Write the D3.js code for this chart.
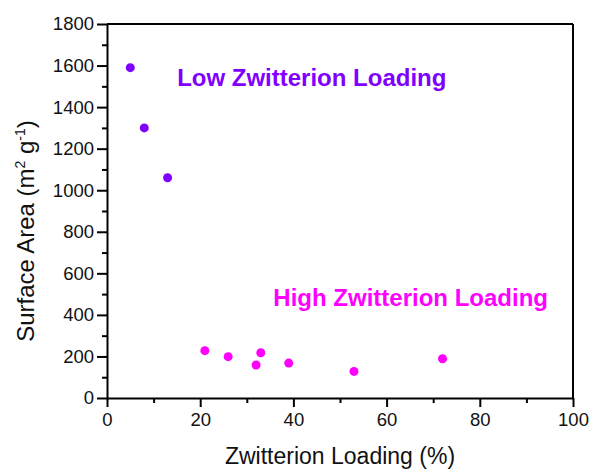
<!DOCTYPE html>
<html>
<head>
<meta charset="utf-8">
<script src="https://cdn.jsdelivr.net/npm/d3@7"></script>
<style>
  body { margin: 0; background: #fff; }
  text { font-family: Arial, "Liberation Sans", sans-serif; }
</style>
</head>
<body>
<div id="chart"></div>
<script>
// data
var lowLoading = [5, 8, 13];
var lowArea = [1590, 1300, 1060];
var highLoading = [21, 26, 32, 33, 39, 53, 72];
var highArea = [228, 199, 159, 218, 168, 128, 189];
var xTicks = [0, 20, 40, 60, 80, 100];
var yTicks = [0, 200, 400, 600, 800, 1000, 1200, 1400, 1600, 1800];

var margin = {top: 24, right: 17, bottom: 72, left: 107},
    width = 590 - margin.left - margin.right,
    height = 470 - margin.top - margin.bottom;

var svg = d3.select("#chart")
  .append("svg")
    .attr("width", 590)
    .attr("height", 470)
  .append("g")
    .attr("transform", "translate(" + margin.left + "," + margin.top + ")");

var x = d3.scaleLinear().domain([0, 100]).range([0, width]);
var y = d3.scaleLinear().domain([0, 1800]).range([height, 0]);

// minor ticks
svg.append("g")
    .attr("transform", "translate(0," + height + ")")
    .call(d3.axisBottom(x).tickValues(d3.range(10, 100, 20)).tickSize(5).tickFormat("").tickSizeOuter(0))
    .call(function(g) { g.select(".domain").remove(); });
svg.append("g")
    .call(d3.axisLeft(y).tickValues(d3.range(100, 1800, 200)).tickSize(5).tickFormat("").tickSizeOuter(0))
    .call(function(g) { g.select(".domain").remove(); });

// frame top / right
svg.append("line").attr("x1", 0).attr("x2", width).attr("y1", 0).attr("y2", 0)
    .attr("stroke", "#000").attr("stroke-width", 2);
svg.append("line").attr("x1", width).attr("x2", width).attr("y1", 0).attr("y2", height)
    .attr("stroke", "#000").attr("stroke-width", 2);

var xAxis = svg.append("g")
    .attr("transform", "translate(0," + height + ")")
    .call(d3.axisBottom(x).tickValues(xTicks).tickFormat(d3.format("d"))
      .tickSize(9).tickPadding(6).tickSizeOuter(0));
var yAxis = svg.append("g")
    .call(d3.axisLeft(y).tickValues(yTicks).tickFormat(d3.format("d"))
      .tickSize(10).tickPadding(3).tickSizeOuter(0));

[xAxis, yAxis].forEach(function(a) {
  a.selectAll("text").style("font-size", "18.5px").attr("fill", "#111")
   .style("font-family", "Arial, 'Liberation Sans', sans-serif");
  a.select(".domain").attr("stroke-width", 2);
});
svg.selectAll(".tick line").attr("stroke-width", 2);

// points
svg.selectAll(".low")
    .data(lowLoading)
  .enter().append("circle")
    .attr("class", "low")
    .attr("cx", function(d) { return x(d); })
    .attr("cy", function(d, i) { return y(lowArea[i]); })
    .attr("r", 4.5)
    .attr("fill", "#7f00ff");

svg.selectAll(".high")
    .data(highLoading)
  .enter().append("circle")
    .attr("class", "high")
    .attr("cx", function(d) { return x(d); })
    .attr("cy", function(d, i) { return y(highArea[i]); })
    .attr("r", 4.5)
    .attr("fill", "#ff00ff");

// annotations
svg.append("text")
    .attr("x", x(15.05))
    .attr("y", y(1503))
    .attr("fill", "#7f00ff")
    .style("font-weight", "bold")
    .style("font-size", "24px")
    .text("Low Zwitterion Loading");

svg.append("text")
    .attr("x", x(35.7))
    .attr("y", y(443))
    .attr("fill", "#ff00ff")
    .style("font-weight", "bold")
    .style("font-size", "24px")
    .text("High Zwitterion Loading");

// axis titles
svg.append("text")
    .attr("x", width / 2)
    .attr("y", height + 66)
    .attr("text-anchor", "middle")
    .style("font-size", "23px")
    .attr("fill", "#111")
    .text("Zwitterion Loading (%)");

var yt = svg.append("text")
    .attr("transform", "translate(" + (34 - margin.left) + "," + (231 - margin.top) + ") rotate(-90)")
    .attr("text-anchor", "middle")
    .style("font-size", "24px")
    .attr("fill", "#111");
yt.append("tspan").text("Surface Area (m");
yt.append("tspan").attr("dy", -9).style("font-size", "14px").text("2");
yt.append("tspan").attr("dy", 9).text(" g");
yt.append("tspan").attr("dy", -9).style("font-size", "14px").text("-1");
yt.append("tspan").attr("dy", 9).text(")");
</script>
</body>
</html>
